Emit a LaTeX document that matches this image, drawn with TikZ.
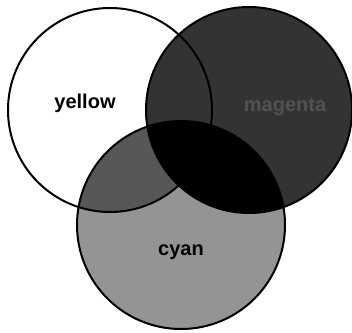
\documentclass[tikz,border=0pt]{standalone}
\usepackage{fontspec}
\setmainfont{Liberation Sans}
\definecolor{magfill}{gray}{0.2}
\definecolor{cyanfill}{gray}{0.58}
\definecolor{greenfill}{gray}{0.34}
\definecolor{magtext}{gray}{0.32}
\begin{document}
\begin{tikzpicture}[x=1pt,y=-1pt,
  ring/.style={draw=black,line width=2pt},
  lbl/.style={font=\bfseries\fontsize{20}{20}\selectfont, inner sep=0pt, anchor=base}]
\useasboundingbox (0,0) rectangle (352,332);
\coordinate (cy) at (110,110);
\coordinate (cm) at (249,110);
\coordinate (cc) at (181,225);
\fill[white] (cy) circle[radius=102pt];
\fill[magfill] (cm) circle[radius=103pt];
\fill[cyanfill] (cc) circle[radius=104pt];
\begin{scope}
  \clip (cy) circle[radius=102pt];
  \fill[greenfill] (cc) circle[radius=104pt];
\end{scope}
\begin{scope}
  \clip (cm) circle[radius=103pt];
  \fill[black] (cc) circle[radius=104pt];
\end{scope}
\draw[ring] (cy) circle[radius=102pt];
\draw[ring] (cm) circle[radius=103pt];
\draw[ring] (cc) circle[radius=104pt];
\node[lbl] (ly) at (85,108) {yellow};
\node[lbl, text=magtext] (lm) at (285,111) {magenta};
\node[lbl] (lc) at (181,255) {cyan};
\end{tikzpicture}
\end{document}
